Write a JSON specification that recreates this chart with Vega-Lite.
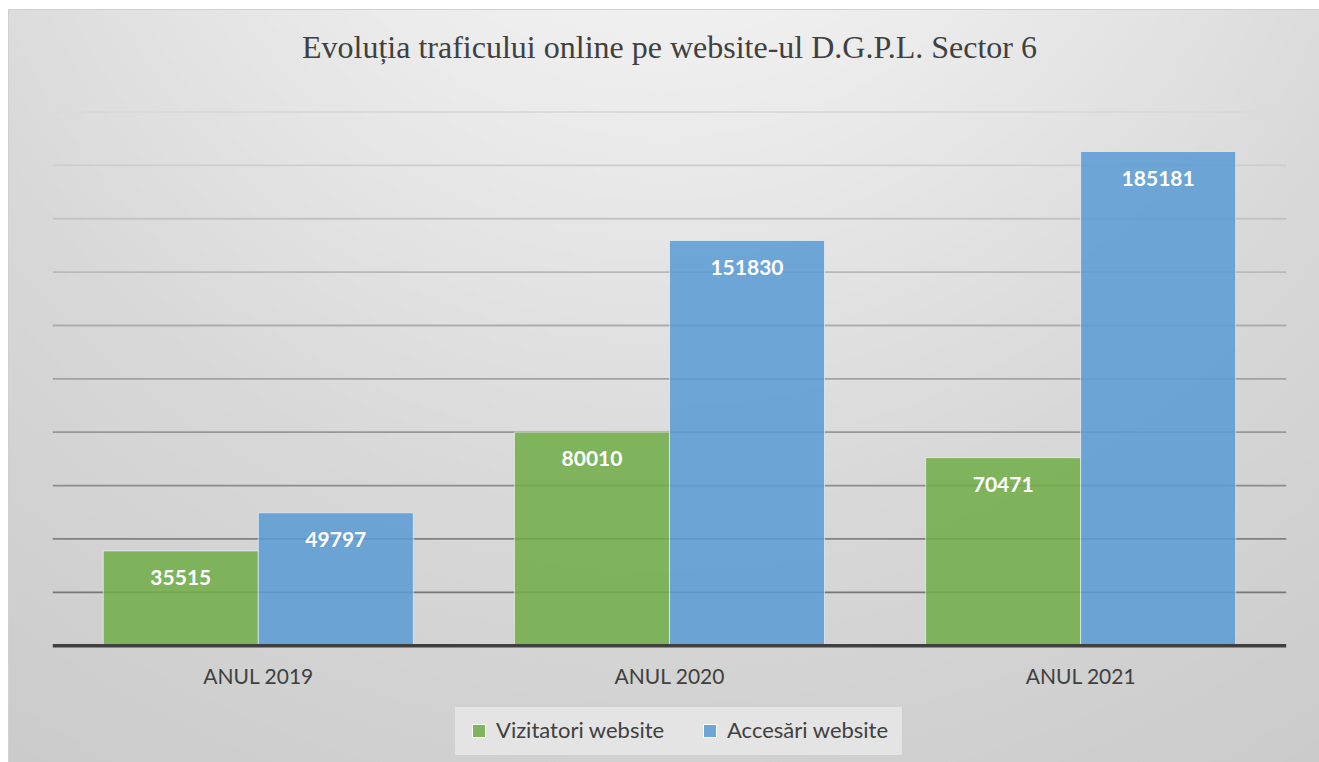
{
  "$schema": "https://vega.github.io/schema/vega-lite/v6.json",
  "width": 1311,
  "height": 753,
  "autosize": {"type": "none"},
  "padding": {"left": 8, "top": 9, "right": 0, "bottom": 0},
  "background": "#ffffff",
  "view": {
    "stroke": "#d0d0d0",
    "strokeWidth": 1,
    "fill": {
      "gradient": "radial",
      "x1": 0.5, "y1": 0.0, "r1": 0,
      "x2": 0.5, "y2": 0.0, "r2": 1,
      "stops": [
        {"offset": 0, "color": "#fbfbfb"},
        {"offset": 0.3, "color": "#ebebeb"},
        {"offset": 0.6, "color": "#d8d8d8"},
        {"offset": 1, "color": "#c8c8c8"}
      ]
    }
  },
  "title": {
    "text": "Evoluția traficului online pe website-ul D.G.P.L. Sector 6",
    "font": "Liberation Serif",
    "fontSize": 32,
    "fontWeight": "normal",
    "color": "#404040",
    "anchor": "middle",
    "frame": "group",
    "baseline": "alphabetic",
    "offset": -81,
    "dx": 6
  },
  "datasets": {
    "trafic": [
      {"an": "ANUL 2019", "serie": "Vizitatori website", "valoare": 35515},
      {"an": "ANUL 2019", "serie": "Accesări website", "valoare": 49797},
      {"an": "ANUL 2020", "serie": "Vizitatori website", "valoare": 80010},
      {"an": "ANUL 2020", "serie": "Accesări website", "valoare": 151830},
      {"an": "ANUL 2021", "serie": "Vizitatori website", "valoare": 70471},
      {"an": "ANUL 2021", "serie": "Accesări website", "valoare": 185181}
    ],
    "grila": [
      {"v": 20000}, {"v": 40000}, {"v": 60000}, {"v": 80000}, {"v": 100000},
      {"v": 120000}, {"v": 140000}, {"v": 160000}, {"v": 180000}, {"v": 200000}
    ]
  },
  "data": {"name": "trafic"},
  "encoding": {
    "x": {
      "field": "an",
      "type": "nominal",
      "axis": null,
      "scale": {"paddingInner": 0.246, "paddingOuter": 0.2172, "align": 0.5335}
    },
    "y": {
      "field": "valoare",
      "type": "quantitative",
      "axis": null,
      "scale": {"domain": [-43583, 238599], "nice": false, "zero": false}
    }
  },
  "layer": [
    {
      "data": {"name": "grila"},
      "mark": {"type": "rule", "strokeWidth": 1.8},
      "encoding": {
        "x": {"datum": "ANUL 2019", "bandPosition": -0.163},
        "x2": {"datum": "ANUL 2021", "bandPosition": 1.163},
        "y": {"field": "v", "type": "quantitative"},
        "stroke": {
          "field": "v",
          "type": "quantitative",
          "legend": null,
          "scale": {"domain": [20000, 200000], "range": ["#777777", "#dadada"]}
        }
      }
    },
    {
      "mark": {"type": "bar", "fillOpacity": 0.86, "stroke": "#ffffff", "strokeWidth": 1, "strokeOpacity": 0.55},
      "encoding": {
        "xOffset": {"field": "serie", "type": "nominal", "sort": ["Vizitatori website", "Accesări website"], "scale": {"paddingInner": 0, "paddingOuter": 0}},
        "y2": {"datum": 0},
        "color": {
          "field": "serie",
          "type": "nominal",
          "sort": ["Vizitatori website", "Accesări website"],
          "scale": {"domain": ["Vizitatori website", "Accesări website"], "range": ["#70AD47", "#5B9BD5"]},
          "legend": {
            "title": null,
            "orient": "none",
            "direction": "horizontal",
            "legendX": 447,
            "legendY": 698,
            "fillColor": "#e4e4e4",
            "padding": 13,
            "columnPadding": 34,
            "labelOffset": 6,
            "labelLimit": 400,
            "labelFont": "Lato",
            "labelFontSize": 22,
            "labelColor": "#404040",
            "symbolType": "square",
            "symbolSize": 169,
            "symbolOpacity": 0.86,
            "symbolStrokeColor": "#ffffff",
            "symbolStrokeWidth": 1
          }
        }
      }
    },
    {
      "data": {"values": [{"z": 0}]},
      "mark": {"type": "rule", "strokeWidth": 3.6, "color": "#404040"},
      "encoding": {
        "x": {"datum": "ANUL 2019", "bandPosition": -0.163},
        "x2": {"datum": "ANUL 2021", "bandPosition": 1.163},
        "y": {"field": "z", "type": "quantitative"}
      }
    },
    {
      "mark": {"type": "text", "font": "Lato", "fontSize": 21, "fontWeight": "bold", "color": "#ffffff", "baseline": "middle", "dy": 28},
      "encoding": {
        "xOffset": {"field": "serie", "type": "nominal", "sort": ["Vizitatori website", "Accesări website"]},
        "text": {"field": "valoare", "type": "quantitative", "format": "d"}
      }
    },
    {
      "transform": [{"filter": "datum.serie === 'Vizitatori website'"}],
      "mark": {"type": "text", "font": "Lato", "fontSize": 21, "color": "#404040", "baseline": "alphabetic"},
      "encoding": {
        "y": {"datum": -14353},
        "text": {"field": "an", "type": "nominal"}
      }
    }
  ]
}
